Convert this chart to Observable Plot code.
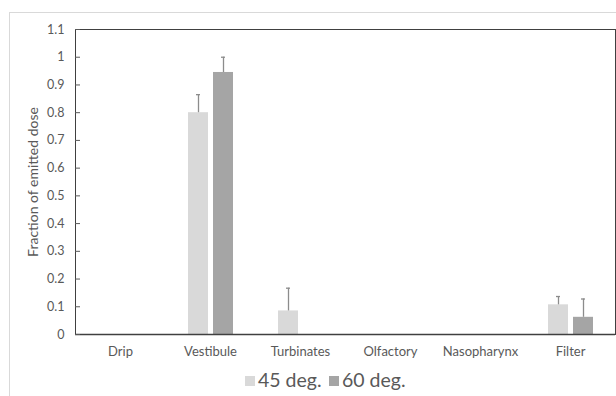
<!DOCTYPE html>
<html>
<head>
<meta charset="utf-8">
<script src="https://cdn.jsdelivr.net/npm/d3@7"></script>
<script src="https://cdn.jsdelivr.net/npm/@observablehq/plot@0.6"></script>
<style>
  html, body { margin: 0; padding: 0; background: #fff; }
  #wrap { position: relative; width: 616px; height: 396px; overflow: hidden; font-family: Lato, "Open Sans", sans-serif; }
  #border { position: absolute; left: 9px; top: 12px; width: 700px; height: 500px; border: 1px solid #d9d9d9; }
  #chart { position: absolute; left: 0; top: 0; }
  #legend { position: absolute; left: 245px; top: 368px; font-size: 19.5px; color: #595959; white-space: nowrap; }
  .sw { position: absolute; top: 8px; width: 10px; height: 10px; }
  .lt { position: absolute; top: 0; }
</style>
</head>
<body>
<div id="wrap">
  <div id="border"></div>
  <div id="chart"></div>
  <div id="legend"></div>
</div>
<script>
const categories = ["Drip", "Vestibule", "Turbinates", "Olfactory", "Nasopharynx", "Filter"];
const series = ["45 deg.", "60 deg."];
const colors = ["#d9d9d9", "#a5a5a5"];
const values45 = [0, 0.80, 0.085, 0, 0, 0.107];
const values60 = [0, 0.945, 0, 0, 0, 0.062];
const errors45 = [0, 0.065, 0.082, 0, 0, 0.030];
const errors60 = [0, 0.055, 0, 0, 0, 0.066];
const yTicks = [0, 0.1, 0.2, 0.3, 0.4, 0.5, 0.6, 0.7, 0.8, 0.9, 1, 1.1];
const yTickLabels = ["0", "0.1", "0.2", "0.3", "0.4", "0.5", "0.6", "0.7", "0.8", "0.9", "1", "1.1"];

const rows = [];
categories.forEach((c, i) => {
  rows.push({cat: c, s: series[0], v: values45[i], e: errors45[i]});
  rows.push({cat: c, s: series[1], v: values60[i], e: errors60[i]});
});
const errRows = rows.filter(d => d.e > 0);

const chart = Plot.plot({
  width: 616,
  height: 366,
  marginTop: 29,
  marginBottom: 32,
  marginLeft: 75,
  marginRight: 1,
  style: {fontFamily: "Lato, 'Open Sans', sans-serif", color: "#595959", background: "transparent"},
  fx: {domain: categories, padding: 0, label: null},
  x: {domain: series, paddingInner: 0.2, paddingOuter: 0.9, axis: null},
  y: {domain: [0, 1.1], label: null},
  color: {domain: series, range: colors},
  marks: [
    Plot.barY(rows, {fx: "cat", x: "s", y: "v", fill: "s"}),
    Plot.ruleX(errRows, {fx: "cat", x: "s", y1: "v", y2: d => d.v + d.e, stroke: "#8c8c8c", strokeWidth: 1.3}),
    Plot.tickY(errRows, {fx: "cat", x: "s", y: d => d.v + d.e, stroke: "#8c8c8c", strokeWidth: 1.3, inset: 8}),
    Plot.ruleY([1.1], {stroke: "#404040", strokeWidth: 1}),
    Plot.frame({anchor: "left", facetAnchor: "left", stroke: "#404040", strokeWidth: 1}),
    Plot.frame({anchor: "right", facetAnchor: "right", stroke: "#404040", strokeWidth: 1}),
    Plot.ruleY([0], {stroke: "#404040", strokeWidth: 1.6}),
    Plot.axisY(yTicks, {tickSize: -5, tickPadding: 16, tickFormat: (d, i) => yTickLabels[i], fontSize: 12.5, label: null}),
    Plot.axisFx({anchor: "bottom", tickSize: 0, tickPadding: 12, fontSize: 13, label: null}),
    Plot.text(["Fraction of emitted dose"], {frameAnchor: "left", textAnchor: "middle", dx: -42, rotate: -90, fontSize: 14, fill: "#595959", facetAnchor: "left", text: d => d})
  ]
});
document.getElementById("chart").appendChild(chart);

const legend = document.getElementById("legend");
const legendOffsets = [0, 84];
series.forEach((s, i) => {
  const sw = document.createElement("span");
  sw.className = "sw";
  sw.style.left = legendOffsets[i] + "px";
  sw.style.background = colors[i];
  const t = document.createElement("span");
  t.className = "lt";
  t.style.left = (legendOffsets[i] + 13) + "px";
  t.textContent = s;
  legend.appendChild(sw);
  legend.appendChild(t);
});
</script>
</body>
</html>
